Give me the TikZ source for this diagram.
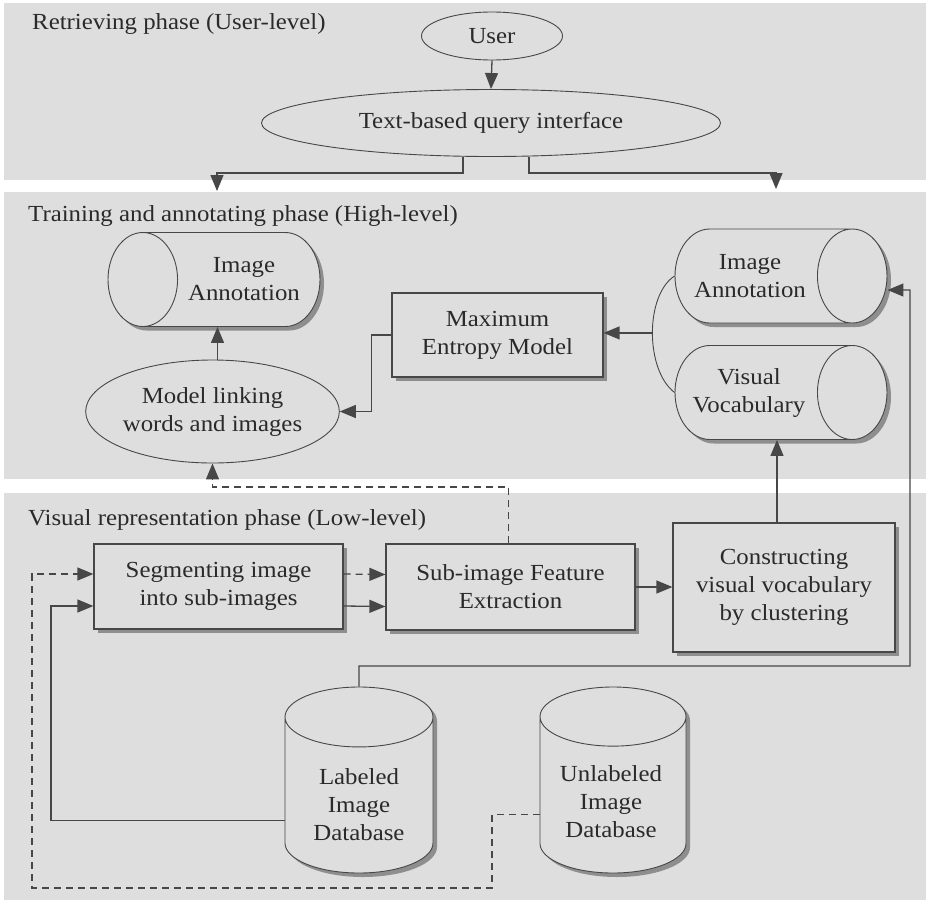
\documentclass[tikz,border=0pt]{standalone}
\usepackage{fontspec}
\setmainfont{Liberation Serif}[FakeStretch=1.08]
\usetikzlibrary{shapes.geometric,shadows,arrows.meta}

\definecolor{bandgray}{HTML}{DEDEDE}
\definecolor{inkgray}{HTML}{474747}
\definecolor{textgray}{HTML}{2A2A2A}
\definecolor{shadowgray}{HTML}{8E8E8E}

\tikzset{
  phase/.style={fill=bandgray, draw=none},
  phasetitle/.style={anchor=base west, inner sep=0pt, text=textgray},
  oval/.style={ellipse, draw=inkgray, line width=0.9pt, fill=bandgray,
    text=textgray, align=center, inner sep=0pt},
  procbox/.style={rectangle, draw=inkgray, line width=1.2pt, fill=bandgray,
    text=textgray, align=center, inner sep=0pt,
    drop shadow={shadow xshift=4pt, shadow yshift=-4pt, fill=shadowgray, opacity=1}},
  store/.style={cylinder, draw=inkgray, line width=0.9pt, fill=bandgray,
    anchor=shape center,
    drop shadow={shadow xshift=4pt, shadow yshift=-4pt, fill=shadowgray, opacity=1}},
  lyingstore/.style={store, inner xsep=0pt, inner ysep=47pt, aspect=0.74, minimum height=212},
  standingstore/.style={store, shape border rotate=90, inner xsep=74pt, inner ysep=0pt,
    aspect=0.405, minimum height=186},
  storetext/.style={text=textgray, align=center, inner sep=0pt},
  link/.style={draw=inkgray, line width=1.3pt},
  flow/.style={link, -{Triangle[length=16pt,width=13pt]}},
  dashflow/.style={flow, dash pattern=on 7pt off 5pt},
}

\begin{document}
\begin{tikzpicture}[x=1pt, y=-1pt, font=\fontsize{23}{28}\selectfont]
  \useasboundingbox (0,0) rectangle (926,900);
  \fill[white] (0,0) rectangle (926,900);

  % three phases
  \path[phase] (4,3) rectangle (926,180);
  \path[phase] (4,192) rectangle (926,479);
  \path[phase] (4,493) rectangle (926,900);

  \node[phasetitle] (titleA) at (32,29) {Retrieving phase (User-level)};
  \node[phasetitle] (titleB) at (28,221) {Training and annotating phase (High-level)};
  \node[phasetitle] (titleC) at (28,525) {Visual representation phase (Low-level)};

  % retrieving phase
  \node[oval, minimum width=141, minimum height=48] (user) at (492,36) {User};
  \node[oval, minimum width=459, minimum height=67] (query) at (491,123) {Text-based query interface};

  \coordinate (dropL) at (217,191);
  \coordinate (dropR) at (776,189);

  % training and annotating phase
  \node[lyingstore, shape border rotate=180] (annotL) at (214,279.5) {};
  \node[storetext] (annotLtext) at ([xshift=30pt]annotL.shape center) {Image\\Annotation};
  \node[oval, minimum width=251, minimum height=103] (model) at (212.5,411.5) {Model linking\\words and images};
  \node[procbox, minimum width=211, minimum height=84] (maxent) at (497.5,335) {Maximum\\Entropy Model};
  \node[lyingstore] (annotR) at (781,276) {};
  \node[storetext] (annotRtext) at ([xshift=-31pt]annotR.shape center) {Image\\Annotation};
  \node[lyingstore] (vocab) at (781,392.5) {};
  \node[storetext] (vocabtext) at ([xshift=-32pt]vocab.shape center) {Visual\\Vocabulary};

  % visual representation phase
  \node[procbox, minimum width=249, minimum height=85] (seg) at (218.5,586.5) {Segmenting image\\into sub-images};
  \node[procbox, minimum width=249, minimum height=86] (feat) at (510.5,587) {Sub-image Feature\\Extraction};
  \node[procbox, minimum width=222, minimum height=129] (cluster) at (784,587.5) {Constructing\\visual vocabulary\\by clustering};
  \node[standingstore] (labeled) at (359,780) {};
  \node[storetext] (labeledtext) at ([yshift=-25pt]labeled.shape center) {Labeled\\Image\\Database};
  \node[standingstore, inner xsep=73pt] (unlabeled) at (613,780) {};
  \node[storetext] (unlabeledtext) at ([xshift=-2pt,yshift=-22pt]unlabeled.shape center) {Unlabeled\\Image\\Database};

  \coordinate (gapB) at (0,487);
  \coordinate (vocabfoot) at ([xshift=-4pt]vocab.shape center |- vocab.south);

  % connectors
  \draw[flow] (user.south) -- (query.north);
  \draw[flow] ([xshift=-28pt]query.south) -- ++(0,16) -| (dropL);
  \draw[flow] ([xshift=38pt]query.south) -- ++(0,16) -| (dropR);

  \draw[flow] ([xshift=5pt]model.north) -- ([xshift=5pt]model.north |- annotL.south);
  \draw[flow] (maxent.west) -- ++(-20,0) |- (model.east);
  \draw[link, line width=0.9pt] (annotR.west) .. controls (645,295) and (645,370) .. (vocab.west)
    coordinate[pos=0.5] (brk);
  \draw[flow] (brk) -- (brk -| maxent.east);

  \draw[flow] (vocabfoot |- cluster.north) -- (vocabfoot);
  \draw[flow] (labeled.north) |- (910,666) -- (910,290) -- ([yshift=-14pt]annotR.east);

  \draw[dashflow] ([yshift=12.5pt]seg.east) -- ([yshift=12.5pt]feat.west);
  \draw[flow] ([yshift=-19.5pt]seg.east) -- ([yshift=-19.5pt]feat.west);
  \draw[flow] (feat.east) -- (feat.east -| cluster.west);

  \draw[dashflow] ([xshift=-2pt]feat.north) |- (model.south |- gapB) -- (model.south);
  \draw[dashflow] ([yshift=-5pt]unlabeled.west) -| (492,888) -| (32,574) -- ([yshift=12.5pt]seg.west);
  \draw[flow] ([yshift=-10pt]labeled.west) -| (51,606) -- ([yshift=-19.5pt]seg.west);
\end{tikzpicture}
\end{document}
